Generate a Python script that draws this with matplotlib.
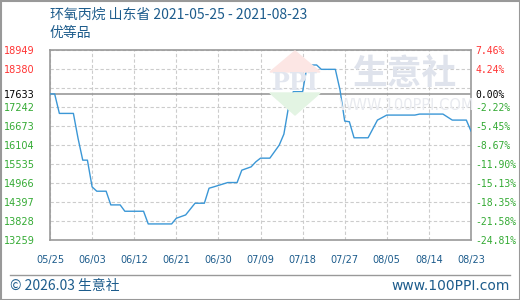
import numpy as np
import matplotlib
matplotlib.use("Agg")
import matplotlib.pyplot as plt
from matplotlib.patches import Polygon, Rectangle
from matplotlib.lines import Line2D

plt.rcParams['font.family'] = ['Noto Sans CJK SC', 'DejaVu Sans']

# -----------------------------------
# DATOS
# -----------------------------------

titulo = "环氧丙烷 山东省 2021-05-25 - 2021-08-23"
subtitulo = "优等品"

# dias desde 2021-05-25 y precio
dias = [0, 1, 2, 5, 6, 7, 8, 9, 10, 12, 13, 15, 16, 20, 21, 26, 27, 29, 31, 33,
        34, 35, 38, 40, 41, 43, 44, 45, 47, 49, 50, 51, 52, 54, 55, 57, 58, 61,
        62, 63, 64, 65, 68, 70, 72, 78, 79, 84, 86, 89, 90]
precios = [17633, 17633, 17050, 17050, 16300, 15650, 15650, 14850, 14720, 14720,
           14310, 14310, 14120, 14120, 13740, 13740, 13910, 14010, 14360, 14360,
           14810, 14850, 14980, 14980, 15350, 15450, 15600, 15710, 15710, 16100,
           16430, 17250, 17700, 17700, 18500, 18500, 18370, 18370, 17750, 16820,
           16800, 16320, 16320, 16850, 17000, 17000, 17030, 17030, 16850, 16850,
           16520]

base = 17633
rejilla = [13259, 13828, 14397, 14966, 15535, 16104, 16673, 17242, 17811, 18380, 18949]
etiquetas_y = [13259, 13828, 14397, 14966, 15535, 16104, 16673, 17242, 17633, 18380, 18949]
etiquetas_pct = ["-24.81%", "-21.58%", "-18.35%", "-15.13%", "-11.90%", "-8.67%",
                 "-5.45%", "-2.22%", "0.00%", "4.24%", "7.46%"]

dias_x = [0, 9, 18, 27, 36, 45, 54, 63, 72, 81, 90]
etiquetas_x = ["05/25", "06/03", "06/12", "06/21", "06/30", "07/09",
               "07/18", "07/27", "08/05", "08/14", "08/23"]

# -----------------------------------
# VENTANA
# -----------------------------------

W, H = 520, 300
fig = plt.figure(figsize=(5.2, 3.0), dpi=100)
fig.patch.set_facecolor('white')


def px(x, y):
    return (x / W, 1 - y / H)


def color_de(v):
    if v > base:
        return '#ff3333'
    if v == base:
        return '#000000'
    return '#33aa33'


ax = fig.add_axes([50 / W, 60 / H, 421 / W, 190 / H])
ax.set_xlim(0, 90)
ax.set_ylim(13259, 18949)

for s in ax.spines.values():
    s.set_color('#999999')
    s.set_linewidth(1.2)

for v in rejilla:
    ax.axhline(v, color='#cccccc', linestyle=(0, (3, 2)), linewidth=0.8, zorder=1)
for d in dias_x:
    ax.axvline(d, color='#cccccc', linestyle=(0, (3, 2)), linewidth=0.8, zorder=1)
ax.axhline(base, color='#999999', linewidth=1.2, zorder=2)

# marca de agua
azul_wm = '#dfe3ec'
fig.add_artist(Polygon([px(270, 72), px(295, 51), px(320, 72)], closed=True,
                       transform=fig.transFigure, color='#fce6e4', zorder=1.5))
fig.add_artist(Polygon([px(270, 93), px(295, 115), px(320, 93)], closed=True,
                       transform=fig.transFigure, color='#e3f4e3', zorder=1.5))
fig.text(*px(295, 83), "PPI", fontsize=17, color='#e2e6ef', ha='center', va='center',
         fontweight='bold', family=['DejaVu Serif'], zorder=1.6)
fig.text(*px(405, 73), "生意社", fontsize=25, color=azul_wm, ha='center', va='center',
         fontweight='bold', zorder=1.6)
fig.text(*px(406, 106), "WWW.100PPI.COM", fontsize=10.5, color='#e8eaef', ha='center',
         va='center', family=['DejaVu Sans'], zorder=1.6)

ax.set_facecolor('none')
ax.plot(dias, precios, color='#3b97d6', linewidth=1.0, zorder=3)

# eje izquierdo
ax.set_yticks(etiquetas_y)
ax.set_yticklabels([str(v) for v in etiquetas_y], family=['DejaVu Sans'], fontsize=7)
ax.tick_params(axis='y', length=0, pad=11)
for lab, v in zip(ax.get_yticklabels(), etiquetas_y):
    lab.set_color(color_de(v))

# eje derecho
ax2 = ax.twinx()
ax2.set_ylim(13259, 18949)
ax2.set_yticks(etiquetas_y)
ax2.set_yticklabels(etiquetas_pct, family=['DejaVu Sans Mono'], fontsize=7)
ax2.tick_params(axis='y', length=0, pad=3)
for lab, v in zip(ax2.get_yticklabels(), etiquetas_y):
    lab.set_color(color_de(v))
for s in ax2.spines.values():
    s.set_visible(False)

# eje x
ax.set_xticks(dias_x)
ax.set_xticklabels(etiquetas_x, family=['DejaVu Sans'], fontsize=7, color='#1d5c8c')
ax.tick_params(axis='x', length=0, pad=11)

# titulos
fig.text(*px(50, 15), titulo, fontsize=10, color='#1d5c8c', ha='left', va='center')
fig.text(*px(50, 33), subtitulo, fontsize=10, color='#1d5c8c', ha='left', va='center')

# pie
fig.add_artist(Line2D([10 / W, 510 / W], [1 - 275 / H, 1 - 275 / H],
                      transform=fig.transFigure, color='#999999', linewidth=1))
fig.text(*px(10, 286), "© 2026.03 生意社", fontsize=10, color='#1d5c8c',
         ha='left', va='center')
fig.text(*px(510, 286), "www.100PPI.com", fontsize=10, color='#1d5c8c',
         ha='right', va='center', family=['DejaVu Sans'])

# borde exterior
fig.add_artist(Rectangle((0.5 / W, 0.5 / H), 1 - 1 / W, 1 - 1 / H, fill=False,
                         transform=fig.transFigure, edgecolor='#999999', linewidth=1.5))

fig.savefig("out.png", dpi=100)
